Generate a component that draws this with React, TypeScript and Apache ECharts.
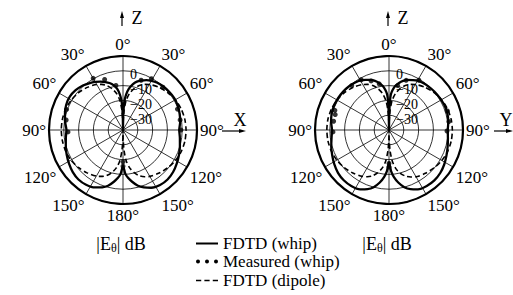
import { useEffect, useRef } from 'react';
import * as echarts from 'echarts';

const FONT = 'Liberation Serif';

// polar angle (deg from +Z, clockwise) for right half of each pattern
const halfAngles = [0, 1, 2, 3, 5, 8, 12, 16, 20, 25, 30, 36, 42, 50, 58, 66, 74, 82, 90, 98, 106, 114, 122, 130, 138, 146, 154, 160, 165, 170, 174, 177, 180];

// XZ plane (left plot) FDTD whip, dB
const xzWhipRight = [-40, -30, -24, -20, -16, -12, -8.5, -6, -4.5, -2.8, -1.6, -0.6, 0, 0.5, 0.8, 0.5, -0.2, -1, -2, -1.2, 0, 1.4, 2.8, 4.2, 5, 4.8, 3.4, 1.2, -1, -4.5, -7.5, -10.5, -15.7];
const xzWhipLeft = [-40, -30, -24, -20, -16, -12, -9, -7, -5.5, -4, -2.5, -1, 0.5, 1.8, 2.4, 2, 0.8, -0.5, -1.8, -1, 0.2, 1.6, 3, 4.3, 5, 4.6, 3.2, 1.2, -1, -4.5, -7.5, -10.5, -15.7];
// YZ plane (right plot) FDTD whip, dB
const yzWhipRight = [-40, -28, -20, -16, -13, -10, -7.5, -5.5, -4, -2.8, -1.5, -0.8, -0.3, 0.2, 0.6, 1, 1, 0.5, -0.3, 0.2, 1.2, 2.5, 4, 5.2, 5.8, 5.6, 4.6, 2.5, 0, -4, -8, -12, -18];
const yzWhipLeft = [-40, -28, -20, -16, -13, -10, -7.5, -5.5, -4, -2.6, -1.3, -0.6, 0, 0.4, 0.6, 0.6, 0.3, -0.5, -1.5, -0.8, 0.6, 2, 3.6, 5, 5.7, 5.6, 4.6, 2.5, 0, -4, -8, -12, -18];

// FDTD dipole
const dipoleAngles = [0, 1, 3, 6, 10, 15, 20, 25, 30, 40, 50, 60, 70, 80, 90, 100, 110, 120, 130, 140, 150, 155, 160, 165, 170, 174, 177, 179, 180];
const xzDipoleRight = [-40, -35, -27, -20, -15, -11, -8, -6, -4.5, -2.3, -0.6, 0.8, 1.8, 2.4, 2.6, 2.5, 2, 1, -0.4, -2, -3.8, -5.2, -7, -10, -14, -19, -26, -34, -40];
const xzDipoleLeft = [-40, -35, -27, -20, -15, -11, -8, -6, -4.5, -2.4, -0.8, 0.4, 1.2, 1.6, 1.7, 1.6, 1.3, 0.6, -0.6, -2.2, -4, -5.4, -7.2, -10, -14, -19, -26, -34, -40];
const yzDipoleRight = [-40, -35, -27, -20, -15, -11, -8, -6, -4.5, -2.3, -0.5, 1, 2, 2.6, 2.8, 2.7, 2.2, 1.2, -0.2, -1.8, -3.5, -5, -6.8, -9.5, -13.5, -19, -26, -34, -40];
const yzDipoleLeft = [-40, -35, -27, -20, -15, -11, -8, -6, -4.5, -2.4, -0.7, 0.6, 1.4, 1.9, 2, 1.9, 1.5, 0.7, -0.5, -2, -3.8, -5.2, -7, -10, -14, -19, -26, -34, -40];

// Measured (whip)
const xzMeasAngles = [20, 29, 43, 69, 80, 90, 180, 180, 268, 280, 290, 330, 340, 351];
const xzMeasValues = [-4.2, -0.4, -0.5, -0.6, -0.8, -0.9, -15.5, -18.5, -2.8, -1, 0.6, 0.3, -3.7, -9.5];
const yzMeasAngles = [11, 19, 31, 72, 82, 91, 180, 180, 268, 279, 286, 290, 320, 331, 340, 348];
const yzMeasValues = [-9.4, -4.5, -0.8, 1.5, 0.8, -0.8, -15, -17.5, -2.1, -2.1, -2.2, -1.1, -0.8, -1.2, -4.7, -8.1];

const radiusTicks = [-30, -20, -10, 0];
const legendNames = ['FDTD (whip)', 'Measured (whip)', 'FDTD (dipole)'];

const ICONS = [
  'path://M0,0H22V2H0Z',
  'path://M0,2a2,2 0 1,0 4,0a2,2 0 1,0 -4,0M9,2a2,2 0 1,0 4,0a2,2 0 1,0 -4,0M18,2a2,2 0 1,0 4,0a2,2 0 1,0 -4,0',
  'path://M0,0H5V1.4H0ZM8,0H13V1.4H8ZM16,0H21V1.4H16Z',
];

function loop(angles: number[], right: number[], left: number[]) {
  const r = angles.map((a, i) => [right[i], a]);
  const l = angles.map((a, i) => [left[i], 360 - a]).reverse();
  return r.concat(l);
}
function pts(angles: number[], vals: number[]) {
  return angles.map((a, i) => [vals[i], a]);
}

export default function App() {
  const ref = useRef<HTMLDivElement>(null);
  useEffect(() => {
    const chart = echarts.init(ref.current!, null, { renderer: 'svg' });
    const angleAxis = [0, 1].map((i) => ({
      polarIndex: i,
      type: 'value',
      min: 0,
      max: 360,
      interval: 30,
      startAngle: 90,
      clockwise: true,
      axisLine: { lineStyle: { color: '#000', width: 2.2 } },
      axisTick: { show: false },
      axisLabel: {
        margin: 3,
        color: '#000',
        fontSize: 17,
        fontFamily: FONT,
        formatter: (v: number) => (v === 360 ? '' : (v > 180 ? 360 - v : v) + '°'),
      },
      splitLine: { lineStyle: { color: '#000', width: 0.8 } },
    }));
    const radiusAxis = [0, 1].map((i) => ({
      polarIndex: i,
      type: 'value',
      min: -40,
      max: 10,
      interval: 10,
      axisLine: { show: false },
      axisTick: { show: false },
      axisLabel: {
        color: '#000',
        fontSize: 14,
        fontFamily: FONT,
        margin: -7,
        align: 'left',
        verticalAlign: 'top',
        lineHeight: 8,
        formatter: (v: number) => (radiusTicks.indexOf(v) >= 0 ? (v < 0 ? '\u2212' + Math.abs(v) : String(v)) : ''),
      },
      splitLine: { show: true, lineStyle: { color: '#000', width: 0.8 } },
    }));
    const mk = (i: number, whip: number[][], dip: number[][], meas: number[][]) => [
      {
        name: legendNames[0], type: 'line', coordinateSystem: 'polar', polarIndex: i,
        data: whip, symbol: 'none', smooth: 0.25,
        lineStyle: { color: '#000', width: 2.3 }, itemStyle: { color: '#000' },
      },
      {
        name: legendNames[1], type: 'scatter', coordinateSystem: 'polar', polarIndex: i,
        data: meas, symbol: 'circle', symbolSize: 5, itemStyle: { color: '#000' },
      },
      {
        name: legendNames[2], type: 'line', coordinateSystem: 'polar', polarIndex: i,
        data: dip, symbol: 'none', smooth: 0.25,
        lineStyle: { color: '#000', width: 1.6, type: [5, 3] }, itemStyle: { color: '#000' },
      },
    ];
    const series = [
      ...mk(0, loop(halfAngles, xzWhipRight, xzWhipLeft), loop(dipoleAngles, xzDipoleRight, xzDipoleLeft), pts(xzMeasAngles, xzMeasValues)),
      ...mk(1, loop(halfAngles, yzWhipRight, yzWhipLeft), loop(dipoleAngles, yzDipoleRight, yzDipoleLeft), pts(yzMeasAngles, yzMeasValues)),
    ];
    const txt = { fill: '#000', fontFamily: FONT };
    const label = (x: number) => ({
      type: 'text', x, y: 244,
      style: {
        ...txt, text: '{a||E}{b|θ}{a|| dB}', align: 'center', verticalAlign: 'middle',
        rich: { a: { fontSize: 18, fontFamily: FONT }, b: { fontSize: 12, fontFamily: FONT, padding: [7, 0, 0, 0] } },
      },
    });
    const upArrow = (x: number) => [
      { type: 'line', shape: { x1: x, y1: 26, x2: x, y2: 15 }, style: { stroke: '#000', lineWidth: 1.2 } },
      { type: 'polygon', shape: { points: [[x, 11], [x - 2, 18], [x + 2, 18]] }, style: { fill: '#000' } },
    ];
    const rightArrow = (x1: number, x2: number) => [
      { type: 'line', shape: { x1, y1: 131, x2: x2 - 4, y2: 131 }, style: { stroke: '#000', lineWidth: 1.2 } },
      { type: 'polygon', shape: { points: [[x2, 131], [x2 - 7, 129], [x2 - 7, 133]] }, style: { fill: '#000' } },
    ];
    const legendTops = [235, 253, 272];
    chart.setOption({
      animation: false,
      polar: [
        { center: [123, 130], radius: 74 },
        { center: [389, 130], radius: 74 },
      ],
      angleAxis,
      radiusAxis,
      legend: legendNames.map((n, k) => ({
        left: 196, top: legendTops[k], padding: 0, itemWidth: 22, itemHeight: 10, itemGap: 4,
        textStyle: { color: '#000', fontSize: 17, fontFamily: FONT },
        selectedMode: false,
        data: [{ name: n, icon: ICONS[k], itemStyle: { color: '#000', opacity: 1 } }],
      })),
      graphic: [
        ...upArrow(122),
        { type: 'text', x: 137, y: 18, style: { ...txt, text: 'Z', fontSize: 18, align: 'center', verticalAlign: 'middle' } },
        ...upArrow(388),
        { type: 'text', x: 403, y: 18, style: { ...txt, text: 'Z', fontSize: 18, align: 'center', verticalAlign: 'middle' } },
        { type: 'text', x: 240, y: 120, style: { ...txt, text: 'X', fontSize: 18, align: 'center', verticalAlign: 'middle' } },
        ...rightArrow(222, 246),
        { type: 'text', x: 506, y: 120, style: { ...txt, text: 'Y', fontSize: 18, align: 'center', verticalAlign: 'middle' } },
        ...rightArrow(494, 513),
        label(121),
        label(387),
      ],
      series,
    });
    return () => chart.dispose();
  }, []);
  return <div ref={ref} style={{ position: 'fixed', left: 0, top: 0, width: 513, height: 295, background: '#fff' }} />;
}
